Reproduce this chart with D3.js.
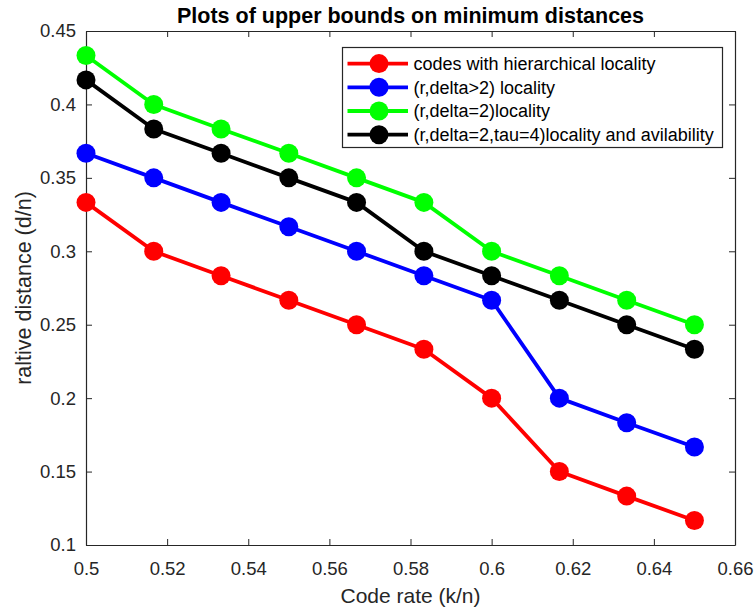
<!DOCTYPE html>
<html><head><meta charset="utf-8">
<script src="https://cdn.jsdelivr.net/npm/d3@7"></script>
<style>body{margin:0;background:#fff}svg{display:block}text{font-family:"Liberation Sans",Arial,sans-serif}</style>
</head><body><svg id="c" width="755" height="612"></svg>
<script>
const xs = [0.5, 0.5167, 0.5333, 0.55, 0.5667, 0.5833, 0.6, 0.6167, 0.6333, 0.65];
const seriesNames = ["codes with hierarchical locality","(r,delta>2) locality","(r,delta=2)locality","(r,delta=2,tau=4)locality and avilability"];
const seriesColors = ["#ff0000","#0000ff","#00ff00","#000000"];
const redVals   = [0.3333, 0.3, 0.2833, 0.2667, 0.25, 0.2333, 0.2, 0.15, 0.1333, 0.1167];
const blueVals  = [0.3667, 0.35, 0.3333, 0.3167, 0.3, 0.2833, 0.2667, 0.2, 0.1833, 0.1667];
const greenVals = [0.4333, 0.4, 0.3833, 0.3667, 0.35, 0.3333, 0.3, 0.2833, 0.2667, 0.25];
const blackVals = [0.4167, 0.3833, 0.3667, 0.35, 0.3333, 0.3, 0.2833, 0.2667, 0.25, 0.2333];
const xTicks = [0.5,0.52,0.54,0.56,0.58,0.6,0.62,0.64,0.66];
const yTicks = [0.1,0.15,0.2,0.25,0.3,0.35,0.4,0.45];

const svg = d3.select("#c");
const L=86, R=735, T=31, B=545;
const x = d3.scaleLinear().domain([0.5,0.66]).range([L,R]);
const y = d3.scaleLinear().domain([0.1,0.45]).range([B,T]);

const fmt = d => String(+d.toFixed(2));
const ax = svg.append("g").attr("transform",`translate(0,${B})`)
  .call(d3.axisBottom(x).tickValues(xTicks).tickSizeInner(-6).tickSizeOuter(0).tickPadding(17).tickFormat(fmt));
const axT = svg.append("g").attr("transform",`translate(0,${T})`)
  .call(d3.axisTop(x).tickValues(xTicks).tickSizeInner(-6).tickSizeOuter(0).tickFormat(""));
const ay = svg.append("g").attr("transform",`translate(${L},0)`)
  .call(d3.axisLeft(y).tickValues(yTicks).tickSizeInner(-6).tickSizeOuter(0).tickPadding(10).tickFormat(fmt));
const ayR = svg.append("g").attr("transform",`translate(${R},0)`)
  .call(d3.axisRight(y).tickValues(yTicks).tickSizeInner(-6).tickSizeOuter(0).tickFormat(""));
[ax,axT,ay,ayR].forEach(g=>{
  g.attr("font-family",null).attr("font-size",null);
  g.selectAll("path").attr("stroke","#262626").attr("stroke-width",1.2);
  g.selectAll("line").attr("stroke","#262626");
  g.selectAll("text").attr("font-size",18.5).attr("fill","#262626");
});

const allVals=[redVals,blueVals,greenVals,blackVals];
const line = d3.line().x((d,i)=>x(xs[i])).y(d=>y(d));
allVals.forEach((vals,k)=>{
  svg.append("path").datum(vals).attr("d",line).attr("fill","none")
    .attr("stroke",seriesColors[k]).attr("stroke-width",3.8).attr("stroke-linejoin","round");
  svg.selectAll(null).data(vals).enter().append("circle")
    .attr("cx",(d,i)=>x(xs[i])).attr("cy",d=>y(d)).attr("r",9.5).attr("fill",seriesColors[k]);
});

svg.append("text").attr("x",(L+R)/2).attr("y",23).attr("text-anchor","middle")
  .attr("font-size",21.5).attr("font-weight","bold").attr("fill","#000").text("Plots of upper bounds on minimum distances");
svg.append("text").attr("x",(L+R)/2).attr("y",603).attr("text-anchor","middle")
  .attr("font-size",21).attr("fill","#262626").text("Code rate (k/n)");
svg.append("text").attr("transform",`translate(31,${(T+B)/2}) rotate(-90)`).attr("text-anchor","middle")
  .attr("font-size",21.5).attr("fill","#262626").text("raltive distance (d/n)");

const lg = svg.append("g").attr("transform","translate(342.5,47.5)");
lg.append("rect").attr("width",380).attr("height",100).attr("fill","#fff").attr("stroke","#262626").attr("stroke-width",1.2);
seriesNames.forEach((n,i)=>{
  const yy = 16.1 + i*23.7;
  lg.append("line").attr("x1",5).attr("x2",65.5).attr("y1",yy).attr("y2",yy).attr("stroke",seriesColors[i]).attr("stroke-width",3.8);
  lg.append("circle").attr("cx",36.5).attr("cy",yy).attr("r",9.5).attr("fill",seriesColors[i]);
  lg.append("text").attr("x",71).attr("y",yy+6.3).attr("font-size",18).attr("fill","#000").text(n);
});
</script></body></html>
